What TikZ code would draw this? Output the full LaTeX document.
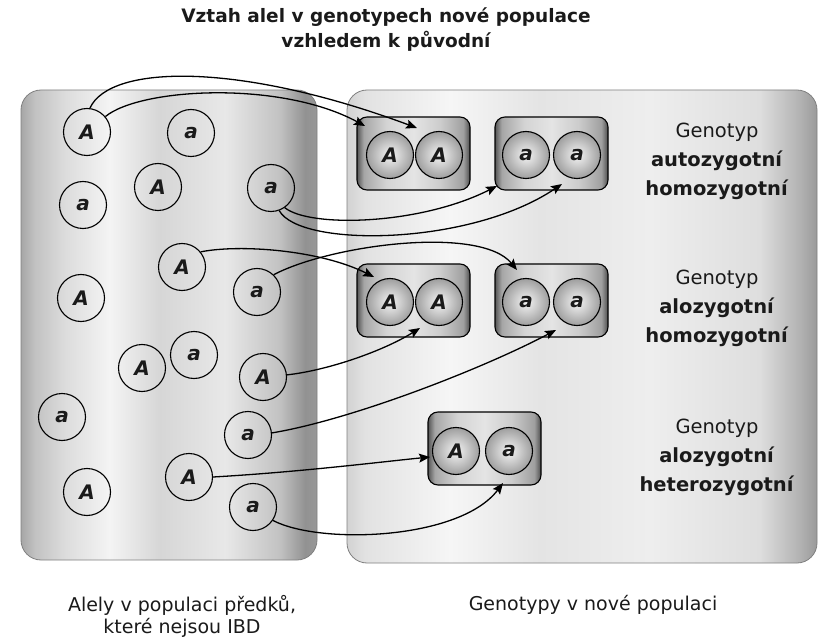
\documentclass[tikz,border=0pt]{standalone}
\usepackage{fontspec}
\setmainfont{DejaVu Sans}
\usetikzlibrary{arrows.meta,calc}

\definecolor{lpA}{HTML}{A6A6A6}
\definecolor{lpB}{HTML}{C2C2C2}
\definecolor{lpC}{HTML}{DCDCDC}
\definecolor{lpD}{HTML}{F4F4F4}
\definecolor{lpE}{HTML}{D6D6D6}
\definecolor{lpF}{HTML}{E8E8E8}
\definecolor{lpG}{HTML}{C2C2C2}
\definecolor{lpH}{HTML}{929292}
\definecolor{lpI}{HTML}{989898}

\definecolor{rpA}{HTML}{D2D2D2}
\definecolor{rpB}{HTML}{E2E2E2}
\definecolor{rpC}{HTML}{EAEAEA}
\definecolor{rpD}{HTML}{F6F6F6}
\definecolor{rpE}{HTML}{E4E4E4}
\definecolor{rpF}{HTML}{EEEEEE}
\definecolor{rpG}{HTML}{DEDEDE}
\definecolor{rpH}{HTML}{B2B2B2}
\definecolor{rpI}{HTML}{9A9A9A}

\definecolor{gbA}{HTML}{555555}
\definecolor{gbB}{HTML}{A6A6A6}
\definecolor{gbC}{HTML}{D4D4D4}
\definecolor{gbD}{HTML}{E4E4E4}
\definecolor{gbE}{HTML}{CCCCCC}
\definecolor{gbF}{HTML}{A0A0A0}
\definecolor{gbG}{HTML}{4E4E4E}

\definecolor{txt}{HTML}{1A1A1A}

\pgfdeclarehorizontalshading{lpsh}{100bp}{color(0bp)=(lpA); color(25bp)=(lpA); color(27.4bp)=(lpB); color(32.4bp)=(lpC); color(40bp)=(lpD); color(48.5bp)=(lpE); color(59.5bp)=(lpF); color(68.7bp)=(lpG); color(73bp)=(lpH); color(75bp)=(lpI); color(100bp)=(lpI)}
\pgfdeclarehorizontalshading{rpsh}{100bp}{color(0bp)=(rpA); color(25bp)=(rpA); color(26.9bp)=(rpB); color(30.6bp)=(rpC); color(36bp)=(rpD); color(45.5bp)=(rpE); color(57.2bp)=(rpF); color(68.9bp)=(rpG); color(73.2bp)=(rpH); color(75bp)=(rpI); color(100bp)=(rpI)}
\pgfdeclarehorizontalshading{gbsh}{100bp}{color(0bp)=(gbA); color(25bp)=(gbA); color(28bp)=(gbB); color(38bp)=(gbC); color(50bp)=(gbD); color(62bp)=(gbE); color(72bp)=(gbF); color(75bp)=(gbG); color(100bp)=(gbG)}

\begin{document}
\begin{tikzpicture}[x=1pt,y=-1pt,
  panel/.style={draw=black!50, line width=0.8pt, rounded corners=20pt, shade, shading=#1},
  gbox/.style={draw=black, line width=1.1pt, rounded corners=10pt, shade, shading=gbsh,
    minimum width=113pt, minimum height=73pt, inner sep=0pt},
  allele/.style={circle, draw=black, line width=1.1pt, minimum size=47pt, inner sep=0pt,
    text=txt, font=\fontsize{20}{20}\selectfont\bfseries\itshape},
  gallele/.style={allele, shade, inner color=black!4, outer color=black!38},
  lbl/.style={align=center, text=txt, font=\fontsize{19.5}{29}\selectfont},
  captext/.style={align=center, text=txt, font=\fontsize{19}{22}\selectfont},
  arr/.style={draw=black, line width=1.3pt, -{Stealth[length=11pt,width=9pt,inset=2pt]}}
]
\useasboundingbox (0,0) rectangle (825,639);
\fill[white] (0,0) rectangle (825,639);

% panels
\path[panel=lpsh] (21,90) rectangle (317,560);
\path[panel=rpsh] (347,90) rectangle (817,563);

% title and captions
\node[align=center, text=txt, font=\fontsize{18.5}{25}\selectfont\bfseries] (title) at (386,30)
  {Vztah alel v genotypech nové populace\\vzhledem k původní};
\node[captext] (capL) at (182,616) {Alely v populaci předků,\\které nejsou IBD};
\node[captext] (capR) at (593,605) {Genotypy v nové populaci};

% genotype boxes
\node[gbox] (B1) at (413.5,153.5) {};
\node[gbox] (B2) at (551.5,153.5) {};
\node[gbox] (B3) at (413.5,300.5) {};
\node[gbox] (B4) at (551.5,300.5) {};
\node[gbox] (B5) at (484.5,448.5) {};

\node[gallele] (g1a) at (390,155) {A};
\node[gallele] (g1b) at (439,155) {A};
\node[gallele] (g2a) at (526,155) {a};
\node[gallele] (g2b) at (577,155) {a};
\node[gallele] (g3a) at (390,302) {A};
\node[gallele] (g3b) at (439,302) {A};
\node[gallele] (g4a) at (526,302) {a};
\node[gallele] (g4b) at (577,302) {a};
\node[gallele] (g5a) at (456,451) {A};
\node[gallele] (g5b) at (509,451) {a};

% genotype labels
\node[lbl] (T1) at (717,161) {Genotyp\\\textbf{autozygotní}\\\textbf{homozygotní}};
\node[lbl] (T2) at (717,308) {Genotyp\\\textbf{alozygotní}\\\textbf{homozygotní}};
\node[lbl] (T3) at (717,457) {Genotyp\\\textbf{alozygotní}\\\textbf{heterozygotní}};

% ancestral alleles
\node[allele] (L1) at (87,132) {A};
\node[allele] (L2) at (191,133) {a};
\node[allele] (L3) at (83,205) {a};
\node[allele] (L4) at (158,187) {A};
\node[allele] (L5) at (271,188) {a};
\node[allele] (L6) at (182,267) {A};
\node[allele] (L7) at (257,292) {a};
\node[allele] (L8) at (81,298) {A};
\node[allele] (L9) at (142,368) {A};
\node[allele] (L10) at (194,355) {a};
\node[allele] (L11) at (263,377) {A};
\node[allele] (L12) at (62,417) {a};
\node[allele] (L13) at (248,435) {a};
\node[allele] (L14) at (87,492) {A};
\node[allele] (L15) at (189,477) {A};
\node[allele] (L16) at (253,507) {a};

% connectors
\draw[arr] (L1.83) .. controls (110,64) and (240,62) .. ($(g1b)+(-22,-27)$);
\draw[arr] (L1.40) .. controls (140,88) and (280,80) .. ($(g1a)+(-25,-29)$);
\draw[arr] (L5.-55) .. controls (310,228) and (420,225) .. ($(g2a)+(-29,31)$);
\draw[arr] (L5.-70) .. controls (300,248) and (470,246) .. ($(g2b)+(-15,29)$);
\draw[arr] (L6.39) .. controls (240,244) and (320,250) .. ($(g3a)+(-16,-25)$);
\draw[arr] (L7.46) .. controls (330,245) and (480,225) .. ($(g4a)+(-9,-32)$);
\draw[arr] (L11.5) .. controls (330,370) and (385,350) .. ($(g3b)+(-19,26)$);
\draw[arr] (L13.5) .. controls (350,420) and (480,370) .. ($(g4b)+(-21,28)$);
\draw[arr] (L15.0) .. controls (300,472) and (380,462) .. ($(g5a)+(-26,6)$);
\draw[arr] (L16.-34) .. controls (320,545) and (460,540) .. ($(g5b)+(-6,32)$);
\end{tikzpicture}
\end{document}
